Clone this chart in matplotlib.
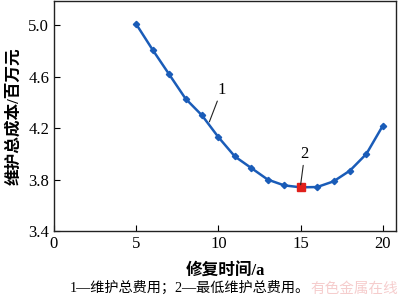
import matplotlib.pyplot as plt

plt.rcParams['font.family'] = ['Liberation Serif', 'Noto Sans CJK SC']

# data
years = [5, 6, 7, 8, 9, 10, 11, 12, 13, 14, 15, 16, 17, 18, 19, 20]
cost = [5.01, 4.81, 4.62, 4.43, 4.30, 4.13, 3.98, 3.89, 3.80, 3.755, 3.74, 3.742, 3.786, 3.87, 4.00, 4.22]
best_year = 15
best_cost = 3.74
xticks = [0, 5, 10, 15, 20]
yticks = [3.4, 3.8, 4.2, 4.6, 5.0]

fig = plt.figure(figsize=(4, 3.01), dpi=100)
ax = fig.add_axes([0.135, 0.2326, 0.855, 0.764])

ax.plot(years, cost, color='#1a5cb8', linewidth=1.8, marker='D', markersize=3.2, zorder=2)
ax.plot([best_year], [best_cost], marker='s', color='#e0201b', markersize=5.5, linestyle='none', zorder=3)

# labels 1 and 2 with leader lines
ax.annotate('1', xy=(9.45, 4.25), xytext=(10.2, 4.50), fontsize=12, ha='center', va='center',
            arrowprops=dict(arrowstyle='-', color='#222222', lw=0.8, shrinkA=0.5, shrinkB=0))
ax.annotate('2', xy=(best_year, best_cost + 0.02), xytext=(15.25, 4.00), fontsize=12, ha='center', va='center',
            arrowprops=dict(arrowstyle='-', color='#222222', lw=0.8, shrinkA=0.5, shrinkB=0))

ax.set_xlim(0, 20.8)
ax.set_ylim(3.4, 5.19)
ax.set_xticks(xticks)
ax.set_yticks(yticks)
ax.set_yticklabels(['%.1f' % v for v in yticks])
ax.tick_params(direction='in', labelsize=12, length=4, top=False, right=False)

for s in ax.spines.values():
    s.set_linewidth(1.0)
    s.set_color('#222222')

ax.set_xlabel('修复时间/a', fontsize=12, fontweight='bold', labelpad=8)
ax.set_ylabel('维护总成本/百万元', fontsize=12, fontweight='bold', labelpad=4)

fig.text(0.475, 0.043, '1—维护总费用；2—最低维护总费用。', fontsize=10.2, ha='center', va='center')
fig.text(0.995, 0.04, '有色金属在线', fontsize=10.5, ha='right', va='center', color='#f2b8b8', alpha=0.7)

plt.savefig('out.png', dpi=100)
